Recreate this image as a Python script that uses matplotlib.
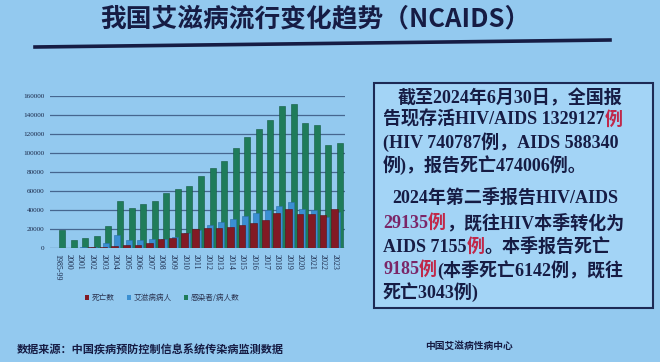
import matplotlib
matplotlib.use('Agg')
import matplotlib.pyplot as plt
import numpy as np
from matplotlib.lines import Line2D
from matplotlib.patches import Rectangle, Patch

plt.rcParams['font.family'] = ['Noto Sans CJK SC', 'DejaVu Sans']

# ---------------- data ----------------
years = ['1985-99', '2000', '2001', '2002', '2003', '2004', '2005', '2006', '2007',
         '2008', '2009', '2010', '2011', '2012', '2013', '2014', '2015', '2016',
         '2017', '2018', '2019', '2020', '2021', '2022', '2023']
deaths = [400, 300, 500, 800, 1200, 2000, 3000, 3500, 5500, 9000, 11000, 16000,
          20000, 21500, 21200, 22200, 23800, 26000, 29700, 37000, 41000, 35500,
          36000, 34500, 41000]
aids_patients = [200, 300, 600, 1000, 5000, 14000, 8000, 8000, 9000, 10000, 12000,
                 15500, 19000, 24000, 27500, 30500, 34000, 36500, 40000, 44000,
                 48000, 41500, 40500, 33000, 38000]
hiv_aids_total = [19000, 8000, 11000, 12500, 23500, 50000, 42500, 46000, 49000,
                  57500, 62500, 65000, 76000, 84000, 92000, 105000, 117000, 125000,
                  135000, 150000, 152000, 132000, 129000, 108000, 111000]
series_names = ['死亡数', '艾滋病病人', '感染者/病人数']
y_ticks = [0, 20000, 40000, 60000, 80000, 100000, 120000, 140000, 160000]

title = '我国艾滋病流行变化趋势（NCAIDS）'
source = '数据来源：中国疾病预防控制信息系统传染病监测数据'
org = '中国艾滋病性病中心'

NAVY = '#161c44'
RED = '#c0284a'
PURPLE = '#7a2668'
box_lines = [
    (398, 98, [('截至2024年6月30日，全国报', NAVY)]),
    (383, 120, [('告现存活HIV/AIDS 1329127', NAVY), ('例', RED)]),
    (383, 142, [('(HIV 740787例，AIDS 588340', NAVY)]),
    (383, 165, [('例)，报告死亡474006例。', NAVY)]),
    (392, 198, [('2024年第二季报告HIV/AIDS', NAVY)]),
    (383, 223, [('29135', PURPLE), ('例', RED), ('，既往HIV本季转化为', NAVY)]),
    (383, 247, [('AIDS 7155', NAVY), ('例', RED), ('。本季报告死亡', NAVY)]),
    (383, 270, [('9185', PURPLE), ('例', RED), ('(本季死亡6142例，既往', NAVY)]),
    (383, 292, [('死亡3043例)', NAVY)]),
]

# ---------------- figure ----------------
W, H = 660, 362
fig = plt.figure(figsize=(W / 100, H / 100), dpi=100)
BG = '#93c9ef'
fig.patch.set_facecolor(BG)


def fx(x):
    return x / W


def fy(y):
    return 1 - y / H


# title + underline
fig.text(fx(315), fy(19), title, ha='center', va='center', fontsize=18.5,
         fontweight='bold', color=NAVY)
fig.add_artist(Line2D([fx(35), fx(610)], [fy(47), fy(40)], color=NAVY, lw=2.6))

# chart axes
ax = fig.add_axes([fx(50), fy(248), (345 - 50) / W, (248 - 96) / H])
ax.set_facecolor('none')
for s in ax.spines.values():
    s.set_visible(False)
x = np.arange(len(years))
for t in y_ticks:
    ax.axhline(t, color='#46668f', lw=0.9, zorder=0)

c_green, c_blue, c_red = '#1f7c5a', '#3a8fd2', '#821a24'
ax.bar(x + 0.45, hiv_aids_total, width=0.52, color=c_green, edgecolor='#145a40',
       lw=0.4, zorder=2)
ax.bar(x + 0.22, aids_patients, width=0.52, color=c_blue, edgecolor='#2a6fa8',
       lw=0.4, zorder=3)
ax.bar(x, deaths, width=0.58, color=c_red, edgecolor='#5a0f16', lw=0.4, zorder=4)

ax.set_xlim(-0.6, len(years) - 0.1)
ax.set_ylim(0, 160000)
ax.set_yticks(y_ticks)
ax.set_yticklabels([str(v) for v in y_ticks], fontsize=5.2, color='#1c2a4a',
                   family=['Liberation Serif', 'DejaVu Serif'])
ax.set_xticks(x)
ax.set_xticklabels(years, rotation=-90, fontsize=5.8, color='#1c2a4a',
                   family=['Liberation Serif', 'DejaVu Serif'])
ax.tick_params(axis='both', length=0)
ax.tick_params(axis='x', pad=4)
ax.tick_params(axis='y', pad=4)

handles = [Patch(facecolor=c_red), Patch(facecolor=c_blue), Patch(facecolor=c_green)]
fig.legend(handles, series_names, loc='center', bbox_to_anchor=(fx(162), fy(298)),
           ncol=3, fontsize=5.5, frameon=False, handlelength=0.6, handleheight=0.6,
           columnspacing=1.6, handletextpad=0.3, labelcolor='#2b3350')

# text box
fig.add_artist(Rectangle((fx(374), fy(308)), (653 - 374) / W, (308 - 83) / H,
                         transform=fig.transFigure, facecolor='#a3d4f6',
                         edgecolor='#1d2a55', lw=1.5))
renderer = fig.canvas.get_renderer()
for x0, y0, segs in box_lines:
    cx = x0
    for txt, col in segs:
        t = fig.text(fx(cx), fy(y0), txt, ha='left', va='center', fontsize=13,
                     fontweight='bold', color=col,
                     family=['Liberation Serif', 'Noto Sans CJK SC'])
        bb = t.get_window_extent(renderer)
        cx = bb.x1

# footer
fig.text(fx(17), fy(350), source, ha='left', va='center', fontsize=8,
         fontweight='bold', color=NAVY)
fig.text(fx(425), fy(346), org, ha='left', va='center', fontsize=7,
         fontweight='bold', color=NAVY)

fig.savefig('out.png', dpi=100, facecolor=BG)
